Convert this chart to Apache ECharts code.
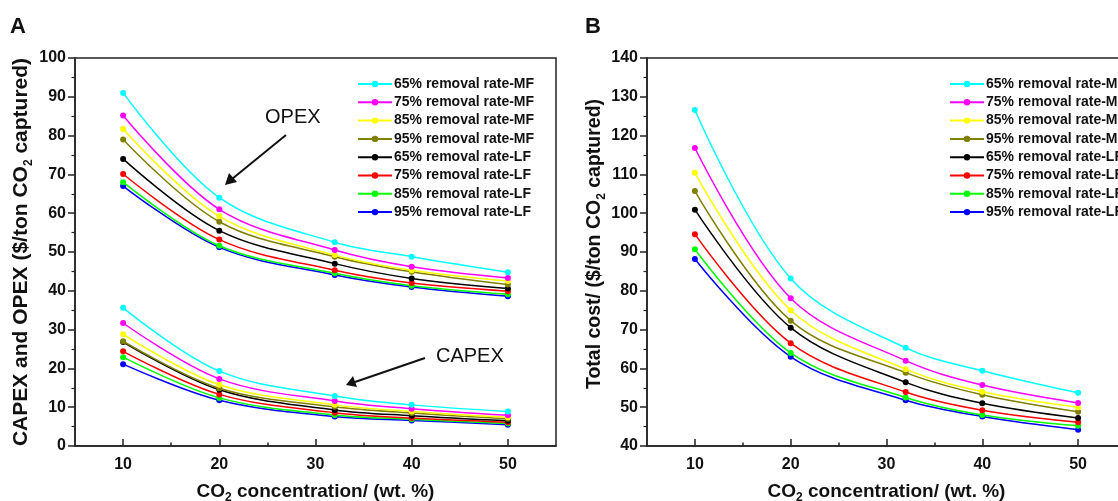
<!DOCTYPE html>
<html><head><meta charset="utf-8">
<script src="https://cdn.jsdelivr.net/npm/echarts@6/dist/echarts.min.js"></script>
<style>html,body{margin:0;padding:0;background:#fff}#c{width:1118px;height:501px}</style>
</head><body><div id="c"></div>
<script>
const xValues = [10, 20, 32, 40, 50];
const seriesNames = ['65% removal rate-MF','75% removal rate-MF','85% removal rate-MF','95% removal rate-MF','65% removal rate-LF','75% removal rate-LF','85% removal rate-LF','95% removal rate-LF'];
const seriesColors = ['#00FFFF','#FF00FF','#FFFF00','#808000','#000000','#FF0000','#00FF00','#0000FF'];
const xTickLabels = [10, 20, 30, 40, 50];
const opexA = [
  [91.0, 64.0, 52.5, 48.8, 44.8],
  [85.2, 61.0, 50.5, 46.2, 43.3],
  [81.7, 59.2, 49.2, 45.3, 42.5],
  [79.0, 57.8, 48.8, 44.9, 41.6],
  [74.0, 55.5, 47.0, 43.2, 40.6],
  [70.1, 53.2, 45.3, 42.0, 39.9],
  [68.0, 51.6, 44.5, 41.3, 39.1],
  [67.0, 51.2, 44.1, 41.0, 38.6]
];
const capexA = [
  [35.6, 19.3, 12.9, 10.6, 8.9],
  [31.7, 17.3, 11.6, 9.6, 7.9],
  [28.8, 15.8, 10.6, 8.9, 7.4],
  [27.0, 14.9, 10.1, 8.5, 7.0],
  [26.8, 14.5, 9.3, 7.8, 6.5],
  [24.4, 13.3, 8.6, 7.2, 6.1],
  [22.9, 12.4, 8.0, 6.9, 5.8],
  [21.1, 11.8, 7.6, 6.6, 5.5]
];
const totalB = [
  [126.6, 83.2, 65.3, 59.4, 53.7],
  [116.8, 78.1, 62.0, 55.7, 51.1],
  [110.4, 75.0, 59.8, 54.0, 50.0],
  [105.7, 72.3, 58.9, 53.2, 48.8],
  [100.9, 70.5, 56.4, 51.0, 47.2],
  [94.6, 66.5, 53.9, 49.2, 46.1],
  [90.7, 64.0, 52.5, 48.0, 45.2],
  [88.2, 63.0, 51.8, 47.6, 44.2]
];

const FONT = 'Liberation Sans, Arial, sans-serif';
const chart = echarts.init(document.getElementById('c'));
const subRich = {s: {fontSize: 12, fontFamily: FONT, fontWeight: 'bold', color: '#111', verticalAlign: 'bottom', padding: [0, 0, -3, 0]}};

function xAxes(grid) {
  return [{
    gridIndex: grid, type: 'value', min: 5, max: 55, interval: 5,
    axisLine: {lineStyle: {color: '#222', width: 1.5}},
    axisTick: {inside: true, length: 7, customValues: xTickLabels, lineStyle: {color: '#222', width: 1.5}},
    axisLabel: {customValues: xTickLabels, color: '#111', fontFamily: FONT, fontWeight: 'bold', fontSize: 16, margin: 11},
    splitLine: {show: false},
    name: 'CO{s|2} concentration/ (wt. %)', nameLocation: 'middle', nameGap: 36,
    nameTextStyle: {color: '#111', fontFamily: FONT, fontWeight: 'bold', fontSize: 19, rich: subRich}
  }, {
    gridIndex: grid, type: 'value', min: 5, max: 55, interval: 5, position: 'bottom',
    axisLine: {show: false},
    axisTick: {inside: true, length: 3.5, customValues: [15, 25, 35, 45], lineStyle: {color: '#222', width: 1.5}},
    axisLabel: {show: false}, splitLine: {show: false}
  }];
}

function yAxis(grid, min, max, name, gap, fs, pad) {
  return {
    gridIndex: grid, type: 'value', min: min, max: max, interval: 10,
    axisLine: {show: true, lineStyle: {color: '#222', width: 1.5}},
    axisTick: {show: true, inside: false, length: 7, lineStyle: {color: '#222', width: 1.5}},
    minorTick: {show: true, splitNumber: 2, length: 3.5, lineStyle: {color: '#222', width: 1.2}},
    axisLabel: {color: '#111', fontFamily: FONT, fontWeight: 'bold', fontSize: 16, margin: 9},
    splitLine: {show: false},
    name: name, nameLocation: 'middle', nameGap: gap,
    nameTextStyle: {color: '#111', fontFamily: FONT, fontWeight: 'bold', fontSize: fs, padding: pad, rich: subRich}
  };
}

const series = [];
function addGroup(values, xIdx, yIdx) {
  values.forEach((vals, i) => {
    series.push({
      name: seriesNames[i], type: 'line', xAxisIndex: xIdx, yAxisIndex: yIdx,
      data: xValues.map((x, j) => [x, vals[j]]),
      smooth: 0.35, symbol: 'circle', symbolSize: 6,
      itemStyle: {color: seriesColors[i]},
      lineStyle: {color: seriesColors[i], width: 1.5},
      z: 10 - i
    });
  });
}
addGroup(opexA, 0, 0);
addGroup(capexA, 0, 0);
addGroup(totalB, 2, 1);

function legend(left) {
  return {
    orient: 'vertical', left: left, top: 72, itemWidth: 34, itemHeight: 8, itemGap: 4.3,
    data: seriesNames,
    textStyle: {color: '#111', fontFamily: FONT, fontWeight: 'bold', fontSize: 14, padding: [0, 0, 0, -3]},
    selectedMode: false
  };
}

const arrowStyle = {stroke: '#111', lineWidth: 2};
chart.setOption({
  animation: false,
  grid: [
    {left: 75, top: 58, width: 481, height: 388, outerBoundsMode: 'none', containLabel: false, show: true, borderColor: '#222', borderWidth: 1.5, backgroundColor: 'transparent'},
    {left: 647, top: 58, width: 479, height: 388, outerBoundsMode: 'none', containLabel: false, show: true, borderColor: '#222', borderWidth: 1.5, backgroundColor: 'transparent'}
  ],
  xAxis: [...xAxes(0), ...xAxes(1)],
  yAxis: [
    yAxis(0, 0, 100, 'CAPEX and OPEX ($/ton CO{s|2} captured)', 43, 21, [0, 0, 0, 0]),
    yAxis(1, 40, 140, 'Total cost/ ($/ton CO{s|2} captured)', 40, 19.5, [0, 0, 0, 16])
  ],
  legend: [legend(352), legend(944)],
  series: series,
  graphic: [
    {type: 'text', left: 10, top: 16, style: {text: 'A', fontFamily: FONT, fontWeight: 'bold', fontSize: 22, fill: '#111'}},
    {type: 'text', left: 585, top: 16, style: {text: 'B', fontFamily: FONT, fontWeight: 'bold', fontSize: 22, fill: '#111'}},
    {type: 'text', left: 265, top: 107, style: {text: 'OPEX', fontFamily: FONT, fontSize: 20, fill: '#111'}},
    {type: 'text', left: 436, top: 346, style: {text: 'CAPEX', fontFamily: FONT, fontSize: 20, fill: '#111'}},
    {type: 'line', shape: {x1: 286, y1: 135, x2: 232, y2: 179}, style: arrowStyle},
    {type: 'polygon', shape: {points: [[225, 185], [229, 173], [237, 182]]}, style: {fill: '#111'}},
    {type: 'line', shape: {x1: 425, y1: 358, x2: 355, y2: 382}, style: arrowStyle},
    {type: 'polygon', shape: {points: [[346, 385], [353, 376], [357, 387]]}, style: {fill: '#111'}}
  ]
});
</script></body></html>
